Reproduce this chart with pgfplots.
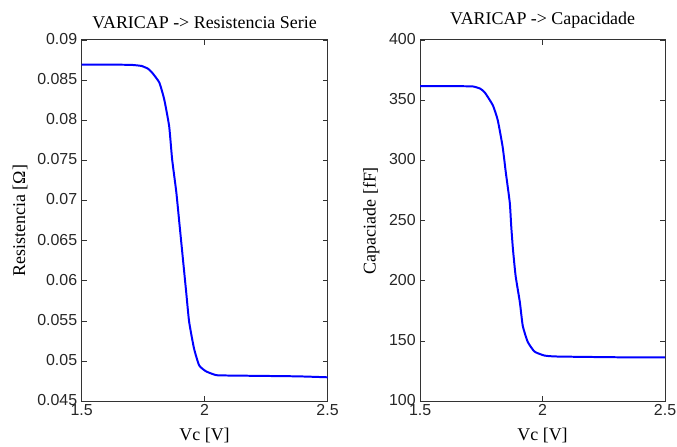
\documentclass[border=0pt]{standalone}
\usepackage{fontspec}
\setmainfont{Liberation Serif}
\newfontfamily\tickfont{Liberation Sans}
\usepackage{pgfplots}
\pgfplotsset{compat=1.18}

\pgfplotsset{
  matlab/.style={
    scale only axis,
    width=247bp, height=363bp,
    xmin=1.5, xmax=2.5,
    xtick={1.5,2,2.5},
    xticklabels={1.5,2,2.5},
    scaled y ticks=false,
    tick align=inside,
    major tick length=5bp,
    axis line style={black!80, line width=0.8pt},
    every tick/.style={black!80, line width=0.6pt},
    ticklabel style={font=\tickfont\fontsize{16bp}{18bp}\selectfont, black!85},
    xticklabel style={yshift=-2bp, inner sep=1bp},
    yticklabel style={xshift=-1bp, yshift=1bp},
    label style={font=\fontsize{18bp}{20bp}\selectfont},
    title style={font=\fontsize{18bp}{20bp}\selectfont, at={(axis description cs:0.5,1)}, anchor=south, yshift=2bp},
    xlabel style={at={(axis description cs:0.5,0)}, anchor=north, yshift=-23bp},
    /pgf/number format/assume math mode=true,
  },
}

\begin{document}
\begin{tikzpicture}
\path[use as bounding box] (-82bp,-45bp) rectangle (598bp,403bp);

\begin{axis}[matlab,
  at={(0,0)}, anchor=south west,
  title={VARICAP -> Resistencia Serie},
  xlabel={Vc [V]},
  ylabel={Resistencia [Ω]},
  ylabel style={at={(axis description cs:-0.25,0.5)}, anchor=center, rotate=0},
  ymin=0.045, ymax=0.09,
  ytick={0.045,0.05,0.055,0.06,0.065,0.07,0.075,0.08,0.085,0.09},
  yticklabels={0.045,0.05,0.055,0.06,0.065,0.07,0.075,0.08,0.085,0.09},
]
\addplot[blue, line width=2pt, smooth, tension=0.3] coordinates {
  (1.500,0.08690) (1.650,0.08690) (1.702,0.08688) (1.743,0.08675)
  (1.770,0.08640) (1.787,0.08590)
  (1.816,0.08467) (1.836,0.08256) (1.856,0.07922) (1.868,0.07512)
  (1.885,0.07103) (1.897,0.06732) (1.909,0.06360) (1.925,0.05864)
  (1.937,0.05492) (1.957,0.05157) (1.978,0.04946) (2.006,0.04872)
  (2.047,0.04825) (2.099,0.04820) (2.374,0.04810) (2.500,0.04798)
};
\end{axis}

\begin{axis}[matlab,
  at={(340bp,0)}, anchor=south west,
  width=246bp,
  title={VARICAP -> Capacidade},
  xlabel={Vc [V]},
  ylabel={Capaciade [fF]},
  ylabel style={at={(axis description cs:-0.2,0.5)}, anchor=center, rotate=0},
  ymin=100, ymax=400,
  ytick={100,150,200,250,300,350,400},
  yticklabels={100,150,200,250,300,350,400},
]
\addplot[blue, line width=2pt, smooth, tension=0.3] coordinates {
  (1.500,361.5) (1.650,361.5) (1.715,361.3) (1.745,359.5) (1.764,356.3) (1.797,345.6)
  (1.817,333.2) (1.837,311.0) (1.850,289.6) (1.866,264.8)
  (1.872,245.1) (1.879,226.1) (1.890,203.8) (1.907,182.4)
  (1.919,162.6) (1.939,149.4) (1.967,141.2) (2.008,137.9)
  (2.061,137.1) (2.300,136.5) (2.500,136.3)
};
\end{axis}
\end{tikzpicture}
\end{document}
